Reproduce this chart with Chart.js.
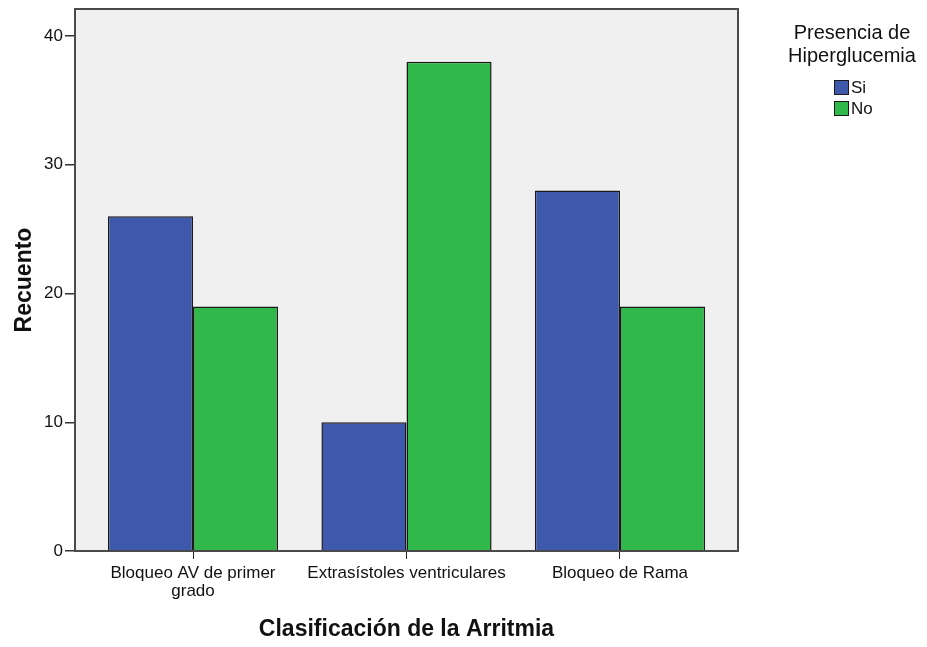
<!DOCTYPE html>
<html>
<head>
<meta charset="utf-8">
<script src="https://cdn.jsdelivr.net/npm/chart.js@4.4.1/dist/chart.umd.min.js"></script>
<style>
  html, body { margin: 0; padding: 0; background: #ffffff; }
  #wrap { width: 927px; height: 647px; position: relative; }
</style>
</head>
<body>
<div id="wrap"><canvas id="c" width="927" height="647"></canvas></div>
<script>
// ---- data ----
const categories = [["Bloqueo AV de primer", "grado"], "Extrasístoles ventriculares", "Bloqueo de Rama"];
const seriesNames = ["Si", "No"];
const siValues = [26, 10, 28];
const noValues = [19, 38, 19];
const yTickValues = [0, 10, 20, 30, 40];
const legendTitle = ["Presencia de", "Hiperglucemia"];
const xTitle = "Clasificación de la Arritmia";
const yTitle = "Recuento";

// ---- styling ----
const FONT = "'Liberation Sans', Arial, sans-serif";
const colors = ["#3E58AB", "#30B84B"];
const catIndex = categories.map((_, i) => i);

const plotBg = {
  id: 'plotBg',
  beforeDatasetsDraw(chart) {
    const { ctx, chartArea: a } = chart;
    ctx.save();
    ctx.fillStyle = '#F0F0F0';
    ctx.fillRect(a.left, a.top, a.right - a.left, a.bottom - a.top);
    ctx.restore();
  },
  afterDatasetsDraw(chart) {
    const { ctx, chartArea: a } = chart;
    ctx.save();
    ctx.strokeStyle = '#4a4a4a';
    ctx.lineWidth = 2;
    ctx.strokeRect(a.left, a.top, a.right - a.left, a.bottom - a.top);
    ctx.restore();
  }
};

const customLegend = {
  id: 'customLegend',
  afterDraw(chart) {
    const ctx = chart.ctx;
    ctx.save();
    ctx.fillStyle = '#111';
    ctx.textAlign = 'center';
    ctx.textBaseline = 'middle';
    ctx.font = "20px " + FONT;
    legendTitle.forEach((t, i) => ctx.fillText(t, 852, 33 + i * 23));
    chart.data.datasets.forEach((ds, i) => {
      const y = 80 + i * 21;
      ctx.fillStyle = ds.backgroundColor;
      ctx.fillRect(834, y, 15, 15);
      ctx.strokeStyle = '#1a1a1a';
      ctx.lineWidth = 1;
      ctx.strokeRect(834.5, y + 0.5, 14, 14);
      ctx.fillStyle = '#111';
      ctx.textAlign = 'left';
      ctx.font = "17px " + FONT;
      ctx.fillText(ds.label, 851, y + 8);
    });
    ctx.restore();
  }
};

const seriesData = [siValues, noValues];

new Chart(document.getElementById('c'), {
  type: 'bar',
  data: {
    datasets: seriesNames.map((name, s) => ({
      label: name,
      data: catIndex.map(i => ({ x: i, y: seriesData[s][i] })),
      backgroundColor: colors[s],
      borderColor: '#1a1a1a',
      borderWidth: 1.5,
      categoryPercentage: 0.797,
      barPercentage: 1.0
    }))
  },
  options: {
    responsive: false,
    animation: false,
    events: [],
    layout: { padding: { left: 0, right: 189, top: 9, bottom: 0 } },
    plugins: { legend: { display: false }, tooltip: { enabled: false } },
    scales: {
      x: {
        type: 'linear',
        offset: false,
        min: -0.5527,
        max: 2.5527,
        afterBuildTicks: (axis) => { axis.ticks = catIndex.map(v => ({ value: v })); },
        afterFit: (axis) => { axis.height = 647 - 551; axis.paddingLeft = 0; axis.paddingRight = 0; },
        grid: { offset: false, drawOnChartArea: false, drawTicks: true, tickLength: 8, color: '#222', lineWidth: 1 },
        border: { display: false },
        ticks: {
          autoSkip: false,
          maxRotation: 0,
          padding: 5,
          color: '#111',
          font: { family: FONT, size: 17, lineHeight: '18px' },
          callback: (v, idx) => categories[idx]
        },
        title: {
          display: true,
          text: xTitle,
          color: '#111',
          font: { family: FONT, size: 23, weight: 'bold', lineHeight: 1 },
          padding: { top: 0, bottom: 6 }
        }
      },
      y: {
        min: 0,
        max: 42.1,
        afterBuildTicks: (axis) => { axis.ticks = yTickValues.map(v => ({ value: v })); },
        afterFit: (axis) => { axis.width = 75; axis.paddingTop = 0; axis.paddingBottom = 0; },
        grid: { drawOnChartArea: false, drawTicks: true, tickLength: 10, color: '#333', lineWidth: 1.5 },
        border: { display: false },
        ticks: {
          padding: 2,
          color: '#111',
          font: { family: FONT, size: 17 }
        },
        title: {
          display: true,
          text: yTitle,
          color: '#111',
          font: { family: FONT, size: 23, weight: 'bold', lineHeight: 1 },
          padding: { top: 13, bottom: 0 }
        }
      }
    }
  },
  plugins: [plotBg, customLegend]
});
</script>
</body>
</html>
